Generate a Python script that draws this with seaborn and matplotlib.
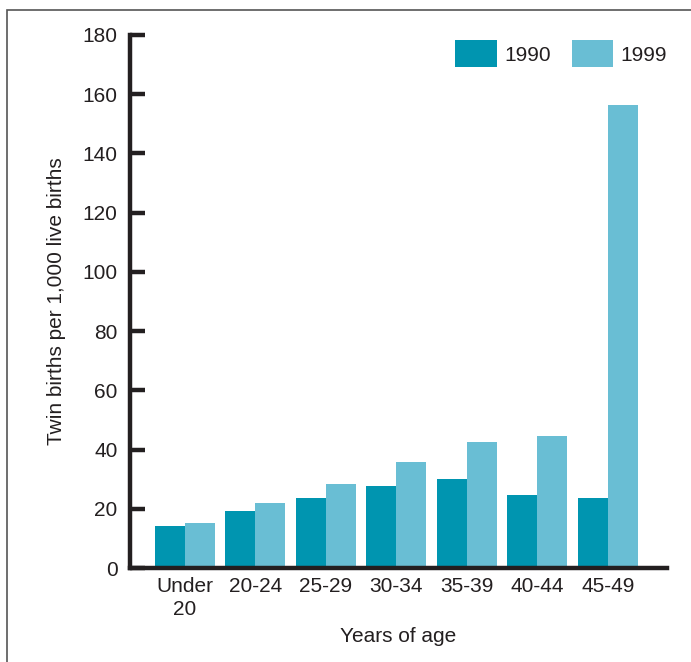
import numpy as np
import pandas as pd
import seaborn as sns
import matplotlib.pyplot as plt
from matplotlib.patches import Rectangle, Patch

sns.set_style("white")
plt.rcParams['font.family'] = ['Liberation Sans', 'DejaVu Sans']

# values
age_groups = ["Under\n20", "20-24", "25-29", "30-34", "35-39", "40-44", "45-49"]
rate_1990 = [14.2, 19.2, 23.6, 27.7, 30.1, 24.7, 23.6]
rate_1999 = [15.2, 22.0, 28.4, 35.8, 42.5, 44.6, 156.4]
years = ["1990", "1999"]
colors = ["#0095B0", "#69BED4"]

df = pd.DataFrame({
    "age": age_groups * 2,
    "rate": rate_1990 + rate_1999,
    "year": [years[0]] * len(age_groups) + [years[1]] * len(age_groups),
})

fig = plt.figure(figsize=(6.91, 6.62), dpi=100)
ax = fig.add_axes([130 / 691, 1 - 568 / 662, (667 - 130) / 691, (568 - 35) / 662])

sns.barplot(data=df, x="age", y="rate", hue="year", palette=colors,
            width=0.85, saturation=1, ax=ax, legend=False)
for p in ax.patches:
    p.set_linewidth(0)

ax.set_ylim(0, 180)
ax.set_xlim(-0.78, 6.84)
ax.set_yticks(np.arange(0, 181, 20))

ink = "#231f20"
for s in ["top", "right"]:
    ax.spines[s].set_visible(False)
for s in ["left", "bottom"]:
    ax.spines[s].set_linewidth(3.2)
    ax.spines[s].set_color(ink)
    ax.spines[s].set_capstyle("projecting")

ax.tick_params(axis="y", left=True, direction="in", length=11, width=3.2, color=ink,
               labelsize=15, labelcolor=ink, pad=9)
ax.tick_params(axis="x", bottom=False, labelsize=15, labelcolor=ink, pad=3)
ax.set_xticklabels(age_groups, linespacing=1.25)

ax.set_xlabel("Years of age", fontsize=15, color=ink, labelpad=6)
ax.set_ylabel("Twin births per 1,000 live births", fontsize=15, color=ink,
              labelpad=12)

handles = [Patch(facecolor=c, edgecolor="none") for c in colors]
ax.legend(handles, years, loc="upper right", bbox_to_anchor=(1.035, 1.025), ncol=2,
          frameon=False, fontsize=15, handlelength=2.0, handleheight=1.6,
          handletextpad=0.35, columnspacing=1.0, labelcolor=ink)

# outer frame, cut off at the right and bottom like the original
fig.patches.append(Rectangle((7 / 691, -0.1), 1.2, 1.1 - 10 / 662,
                             transform=fig.transFigure, fill=False,
                             edgecolor="#555555", linewidth=1.2))

fig.savefig("out.png", dpi=100)
